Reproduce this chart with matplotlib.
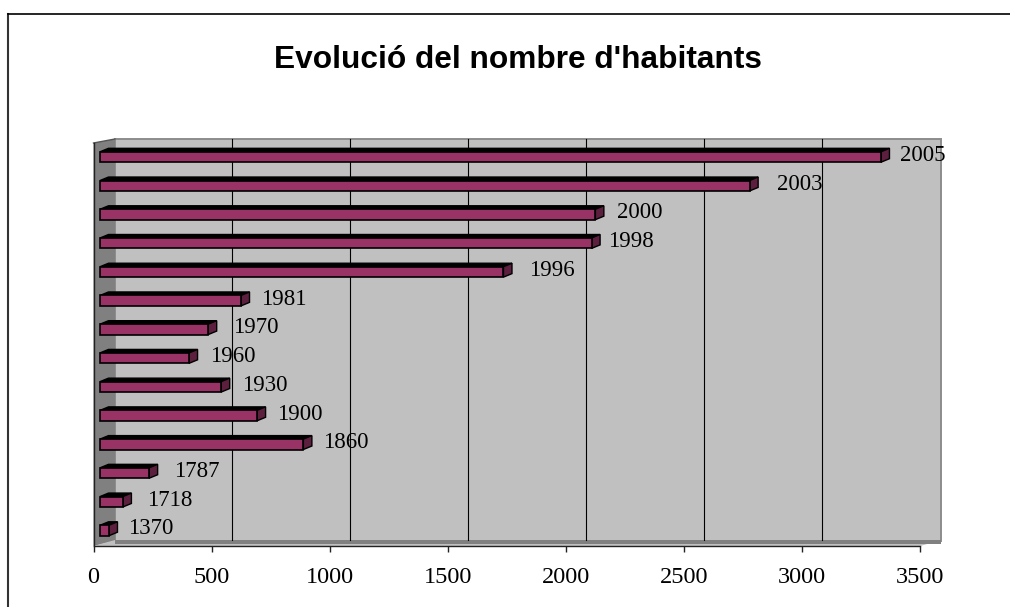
import matplotlib
matplotlib.use("Agg")
import matplotlib.pyplot as plt
from matplotlib.lines import Line2D

years = ["1370", "1718", "1787", "1860", "1900", "1930", "1960", "1970", "1981", "1996", "1998", "2000", "2003", "2005"]
habitants = [38, 97, 208, 861, 665, 513, 377, 458, 597, 1708, 2081, 2097, 2750, 3306]
# the labels of the original sit at uneven distances from the bars
label_pad = [19, 24, 25, 20, 20, 21, 21, 25, 20, 26, 16, 22, 27, 19]
x_ticks = [0, 500, 1000, 1500, 2000, 2500, 3000, 3500]

W, H = 1010, 607
BAR = "#993366"
SIDE = "#5c1f3d"

fig = plt.figure(figsize=(W / 100, H / 100), dpi=100)
fig.patch.set_facecolor("white")

# axes box in pixels: x 0..3500 on 93.5..920.3, baseline at 545.7
left, right, top, bottom = 93.5, 920.3, 143.0, 545.7
ax = fig.add_axes([left / W, 1 - bottom / H, (right - left) / W, (bottom - top) / H])
ax.set_facecolor("none")

px_x = 3500 / (right - left)   # data units per pixel
row = 28.73                    # pixels per category
px_y = 1 / row
y0 = -(bottom - 530.5) * px_y
ax.set_xlim(0, 3500)
ax.set_ylim(y0, y0 + (bottom - top) * px_y)


def X(px):
    return (px - left) * px_x


def Y(px):
    return y0 + (bottom - px) * px_y


# walls and floor
ax.fill([X(115), X(941), X(941), X(115)], [Y(139), Y(139), Y(541), Y(541)],
        facecolor="#c0c0c0", edgecolor="#8c8c8c", lw=1.4, clip_on=False, zorder=1)
ax.fill([X(93.5), X(115), X(115), X(93.5)], [Y(143), Y(139), Y(541), Y(546)],
        facecolor="#808080", edgecolor="none", clip_on=False, zorder=1.2)
ax.plot([X(93.5), X(115)], [Y(143), Y(139)], color="#555555", lw=1, clip_on=False, zorder=1.3)
ax.fill([X(93.5), X(115), X(941), X(920.3)], [Y(546), Y(540), Y(540), Y(546)],
        facecolor="#c0c0c0", edgecolor="none", clip_on=False, zorder=1.2)
ax.fill([X(115), X(941), X(941), X(115)], [Y(540), Y(540), Y(543.5), Y(543.5)],
        facecolor="#808080", edgecolor="none", clip_on=False, zorder=1.25)

# gridlines on the back wall
for v in x_ticks[1:-1]:
    gx = v + 20 * px_x
    ax.plot([gx, gx], [Y(139.5), Y(540)], color="black", lw=0.8, clip_on=False, zorder=1.5)

# bars, front face starts 6.5 px right of zero
x_start = X(100)
half = 5.2 * px_y
dx = 8.5 * px_x
dy = 3.5 * px_y
for i, (name, v) in enumerate(zip(years, habitants)):
    x1 = x_start + v
    ax.fill([x_start, x1, x1 + dx, x_start + dx], [i + half, i + half, i + half + dy, i + half + dy],
            facecolor="black", edgecolor="black", lw=1, clip_on=False, zorder=3)
    ax.fill([x1, x1 + dx, x1 + dx, x1], [i - half, i - half + dy, i + half + dy, i + half],
            facecolor=SIDE, edgecolor="black", lw=1, clip_on=False, zorder=3)
    ax.fill([x_start, x1, x1, x_start], [i - half, i - half, i + half, i + half],
            facecolor=BAR, edgecolor="black", lw=1.2, clip_on=False, zorder=4)
    ax.text(x1 + label_pad[i] * px_x, i + 1.5 * px_y, name, family="Liberation Serif", fontsize=16.5,
            color="black", ha="left", va="center", clip_on=False, zorder=5)

# axes
for s in ["top", "right"]:
    ax.spines[s].set_visible(False)
ax.spines["left"].set_color("#222222")
ax.spines["left"].set_linewidth(1)
ax.spines["bottom"].set_color("#222222")
ax.spines["bottom"].set_linewidth(1)
ax.spines["left"].set_zorder(2)
ax.spines["bottom"].set_zorder(2)
ax.set_yticks([])
ax.set_xticks(x_ticks)
ax.set_xticklabels([str(t) for t in x_ticks], family="Liberation Serif", fontsize=17.5)
ax.tick_params(axis="x", length=4.5, width=1, color="#222222", pad=11)

fig.text(517.5 / W, 1 - 60.5 / H, "Evolució del nombre d'habitants", family="Liberation Sans",
         fontweight="bold", fontsize=22.8, ha="center", va="center")

# chart border, only top and left are inside the picture
fig.add_artist(Line2D([8 / W, 8 / W], [0, 1 - 14 / H], color="#333333", lw=1.5))
fig.add_artist(Line2D([8 / W, 1], [1 - 14 / H, 1 - 14 / H], color="black", lw=1.2))

fig.savefig("out.png", dpi=100)
